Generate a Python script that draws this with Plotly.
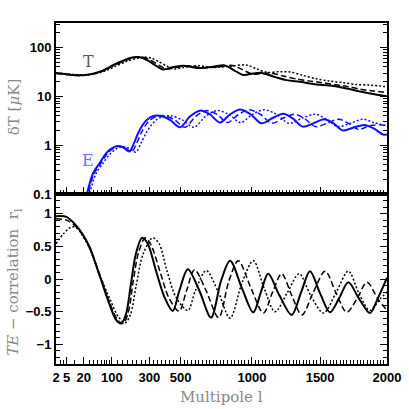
import numpy as np
import plotly.graph_objects as go

# ---------------- data ----------------
# Temperature delta T [muK]
ell_T_solid = [2, 5, 10, 16, 25, 40, 56, 80, 105, 150, 190, 225, 260, 300, 345, 385, 440, 520, 610, 720, 807, 866, 938, 1010, 1070, 1155, 1253, 1350, 1425, 1500, 1598, 1698, 1798, 1897, 2000]
T_solid = [30, 28.3, 27.2, 27, 27.8, 29.5, 31.8, 37, 43.5, 53, 61, 64, 61, 52, 41.5, 35.6, 39, 42.5, 38, 40.5, 43, 35, 27.5, 29.4, 30.2, 25.5, 21.5, 19.9, 18.4, 17.2, 16.3, 14.5, 12.6, 11.2, 10.1]

ell_T_dash = [2, 5, 10, 16, 25, 40, 56, 80, 110, 160, 205, 245, 280, 320, 370, 410, 470, 555, 650, 770, 860, 925, 1005, 1080, 1140, 1230, 1330, 1430, 1520, 1600, 1700, 1800, 1900, 2000]
T_dash = [29.5, 28, 27, 26.8, 27.5, 29, 31, 36, 43, 53, 61, 64, 61, 52, 41.5, 35.8, 39, 42.5, 38.5, 40.5, 43, 36, 28.5, 29.5, 30, 26, 22.5, 20.5, 19, 17.5, 16, 14, 12.8, 12]

ell_T_dot = [2, 5, 10, 16, 25, 40, 56, 80, 115, 170, 225, 270, 310, 355, 410, 460, 520, 620, 720, 850, 960, 1030, 1110, 1200, 1280, 1370, 1470, 1570, 1670, 1770, 1870, 1950, 2000]
T_dot = [30.5, 29, 27.8, 27.3, 27.6, 29, 30.5, 34, 41, 52, 60, 63.5, 61, 52, 41.5, 36.5, 39, 42.5, 39, 41.5, 44, 37, 31, 32, 31.5, 27, 23, 20.5, 19, 17.5, 17, 16.2, 15.7]

# E-polarisation delta T [muK]
ell_E_solid = [20, 25, 38, 56, 78, 100, 120, 150, 185, 210, 233, 260, 284, 320, 365, 430, 497, 564, 630, 700, 772, 840, 914, 990, 1070, 1150, 1230, 1300, 1370, 1450, 1530, 1600, 1670, 1750, 1830, 1900, 1970, 2000]
E_solid = [0.05, 0.1, 0.27, 0.43, 0.69, 0.86, 0.95, 0.92, 0.74, 1.1, 1.76, 2.6, 3.28, 3.9, 4.0, 3.3, 2.33, 3.9, 5.1, 4.3, 2.9, 4.2, 5.4, 4.3, 2.8, 3.6, 4.4, 3.5, 2.4, 2.8, 3.4, 2.8, 2.0, 2.3, 2.6, 2.2, 1.65, 1.65]

ell_E_dash = [22, 27, 40, 60, 83, 105, 128, 160, 197, 225, 250, 278, 304, 345, 392, 460, 530, 603, 675, 750, 825, 900, 980, 1060, 1145, 1230, 1315, 1390, 1465, 1550, 1640, 1710, 1785, 1870, 1960, 2000]
E_dash = [0.05, 0.1, 0.26, 0.43, 0.68, 0.85, 0.94, 0.91, 0.73, 1.1, 1.76, 2.6, 3.28, 3.9, 4.0, 3.3, 2.33, 3.9, 5.1, 4.3, 2.9, 4.2, 5.3, 4.3, 2.8, 3.6, 4.3, 3.4, 2.4, 2.8, 3.4, 2.8, 2.1, 2.5, 2.6, 2.45]

ell_E_dot = [24, 30, 45, 67, 93, 119, 143, 178, 220, 250, 277, 309, 338, 381, 434, 512, 591, 671, 750, 833, 919, 1000, 1088, 1178, 1273, 1370, 1464, 1547, 1630, 1725, 1820, 1900, 2000]
E_dot = [0.05, 0.1, 0.26, 0.43, 0.66, 0.84, 0.92, 0.89, 0.72, 1.1, 1.7, 2.5, 3.2, 3.85, 4.0, 3.3, 2.33, 3.9, 5.1, 4.3, 2.9, 4.2, 5.3, 4.3, 2.8, 3.6, 4.3, 3.4, 2.4, 2.8, 3.4, 2.9, 2.5]

# TE correlation coefficient
ell_TE_solid = [2, 5, 11, 18, 30, 57, 90, 118, 143, 167, 193, 220, 256, 290, 340, 395, 448, 492, 549, 628, 709, 779, 843, 930, 1010, 1065, 1118, 1200, 1290, 1360, 1425, 1500, 1573, 1640, 1710, 1790, 1872, 1930, 2000]
TE_solid = [0.96, 0.95, 0.82, 0.69, 0.49, 0.03, -0.38, -0.62, -0.68, -0.54, -0.08, 0.38, 0.63, 0.54, 0.13, -0.28, -0.49, -0.18, 0.15, -0.18, -0.59, -0.03, 0.28, -0.15, -0.51, -0.2, 0.08, -0.25, -0.55, -0.2, 0.12, -0.22, -0.51, -0.3, -0.05, -0.3, -0.52, -0.3, 0.02]

ell_TE_dash = [2, 5, 11, 18, 30, 57, 90, 125, 152, 178, 205, 235, 275, 310, 365, 425, 490, 540, 595, 675, 762, 835, 902, 995, 1083, 1150, 1217, 1290, 1365, 1450, 1537, 1620, 1698, 1775, 1850, 1930, 2000]
TE_dash = [0.92, 0.9, 0.8, 0.68, 0.48, 0.05, -0.35, -0.62, -0.68, -0.52, -0.05, 0.4, 0.63, 0.52, 0.12, -0.3, -0.49, -0.18, 0.14, -0.18, -0.59, -0.03, 0.28, -0.15, -0.52, -0.2, 0.08, -0.25, -0.55, -0.2, 0.12, -0.22, -0.51, -0.3, -0.05, -0.3, -0.48]

ell_TE_dot = [2, 4, 8, 13, 20, 30, 57, 95, 130, 162, 190, 222, 262, 320, 360, 410, 470, 549, 600, 675, 760, 843, 930, 1010, 1090, 1168, 1260, 1345, 1430, 1525, 1620, 1710, 1790, 1870, 1950, 2000]
TE_dot = [0.54, 0.7, 0.8, 0.76, 0.63, 0.47, 0.05, -0.33, -0.58, -0.67, -0.55, -0.1, 0.38, 0.63, 0.54, 0.13, -0.28, -0.48, -0.18, 0.13, -0.2, -0.6, -0.05, 0.28, -0.15, -0.5, -0.2, 0.08, -0.25, -0.52, -0.2, 0.12, -0.22, -0.48, -0.3, -0.2]

# axis ticks
x_major = [2, 5, 20, 100, 300, 500, 1000, 1500, 2000]
x_major_labels = ["2", "5", "20", "100", "300", "500", "1000", "1500", "2000"]
x_minor = [3, 4, 10, 30, 40, 50, 60, 70, 80, 90] + list(range(125, 2000, 25))
yT_major = [0.1, 1, 10, 100]
yT_labels = ["0.1", "1", "10", "100"]
yTE_major = [-1, -0.5, 0, 0.5, 1]
yTE_labels = ["\u22121", "\u22120.5", "0", "0.5", "1"]


# ---------------- multipole scale: log at low l, linear at high l ----------------
def lscale(l):
    l = np.asarray(l, dtype=float)
    return np.log10(l) + l / 200.0


fig = go.Figure()


def add(ls, vals, color, dash, width, xa, ya):
    fig.add_trace(go.Scatter(
        x=lscale(ls), y=vals, mode="lines", xaxis=xa, yaxis=ya,
        line=dict(color=color, dash=dash, width=width, shape="spline", smoothing=0.9),
        showlegend=False, hoverinfo="skip"))


BLUE = "#1010ff"
add(ell_T_dot, T_dot, "black", "2px,2px", 1.5, "x", "y")
add(ell_T_dash, T_dash, "black", "6px,3px", 1.5, "x", "y")
add(ell_T_solid, T_solid, "black", "solid", 2.0, "x", "y")
add(ell_E_dot, E_dot, BLUE, "2px,2px", 1.5, "x", "y")
add(ell_E_dash, E_dash, BLUE, "6px,3px", 1.5, "x", "y")
add(ell_E_solid, E_solid, BLUE, "solid", 2.0, "x", "y")
add(ell_TE_dot, TE_dot, "black", "2px,2px", 1.5, "x2", "y2")
add(ell_TE_dash, TE_dash, "black", "6px,3px", 1.5, "x2", "y2")
add(ell_TE_solid, TE_solid, "black", "solid", 2.0, "x2", "y2")

xr = [float(lscale(2)), float(lscale(2000))]
tickfont = dict(family="Liberation Sans", size=13, color="black", weight="bold")
xcommon = dict(range=xr, type="linear", showgrid=False, zeroline=False,
               showline=True, linecolor="black", linewidth=2, mirror=True,
               ticks="inside", ticklen=7, tickwidth=1.2, tickcolor="black",
               tickmode="array", tickvals=list(lscale(x_major)), ticktext=x_major_labels,
               minor=dict(ticks="inside", ticklen=4, tickwidth=1, tickcolor="black",
                          tickmode="array", tickvals=list(lscale(x_minor))),
               tickfont=tickfont, automargin=False)

split = 0.4985
T_minor = [m * 10.0 ** d for d in range(-1, 3) for m in range(2, 10)]
TE_minor = [round(v, 1) for v in np.arange(-1.2, 1.25, 0.1)]

fig.update_layout(
    width=409, height=409, plot_bgcolor="white", paper_bgcolor="white",
    margin=dict(l=56, r=22, t=23, b=45, autoexpand=False),
    xaxis=dict(xcommon, anchor="y", showticklabels=False, matches="x2"),
    xaxis2=dict(xcommon, anchor="y2"),
    yaxis=dict(type="log", range=[-1, 2.502], domain=[split, 1], anchor="x",
               showgrid=False, zeroline=False, showline=True, linecolor="black",
               linewidth=2, mirror="ticks", ticks="inside", ticklen=7, tickwidth=1.2,
               tickcolor="black", tickmode="array", tickvals=yT_major, ticktext=yT_labels,
               minor=dict(ticks="inside", ticklen=4, tickwidth=1, tickcolor="black",
                          tickmode="array", tickvals=T_minor),
               tickfont=tickfont, automargin=False),
    yaxis2=dict(type="linear", range=[-1.3, 1.3], domain=[0, split], anchor="x2",
                showgrid=False, zeroline=False, showline=True, linecolor="black",
                linewidth=2, mirror="ticks", ticks="inside", ticklen=7, tickwidth=1.2,
                tickcolor="black", tickmode="array", tickvals=yTE_major, ticktext=yTE_labels,
                minor=dict(ticks="inside", ticklen=4, tickwidth=1, tickcolor="black",
                           tickmode="array", tickvals=TE_minor),
                tickfont=tickfont, automargin=False),
)

serif = "DejaVu Serif"
ann = dict(xref="paper", yref="paper", showarrow=False, xanchor="center", yanchor="middle")
fig.add_annotation(ann, x=0.097, y=0.888, text="T",
                   font=dict(family=serif, size=16, color="#555555"))
fig.add_annotation(ann, x=0.097, y=0.598, text="E",
                   font=dict(family=serif, size=16, color="#7070ff"))
fig.add_annotation(ann, x=-0.128, y=0.752, text="\u03b4T [<i>\u03bc</i>K]", textangle=-90,
                   font=dict(family=serif, size=15, color="#888888"))
fig.add_annotation(ann, x=-0.128, y=0.24, text="<i>TE</i> \u2212 correlation  r<sub>l</sub>",
                   textangle=-90, font=dict(family=serif, size=15, color="#888888"))
fig.add_annotation(ann, x=0.5, y=-0.098, text="Multipole l",
                   font=dict(family=serif, size=15, color="#888888"))

fig.write_html("out.html", config={"displayModeBar": False},
               post_script="document.body.style.margin='0';")
